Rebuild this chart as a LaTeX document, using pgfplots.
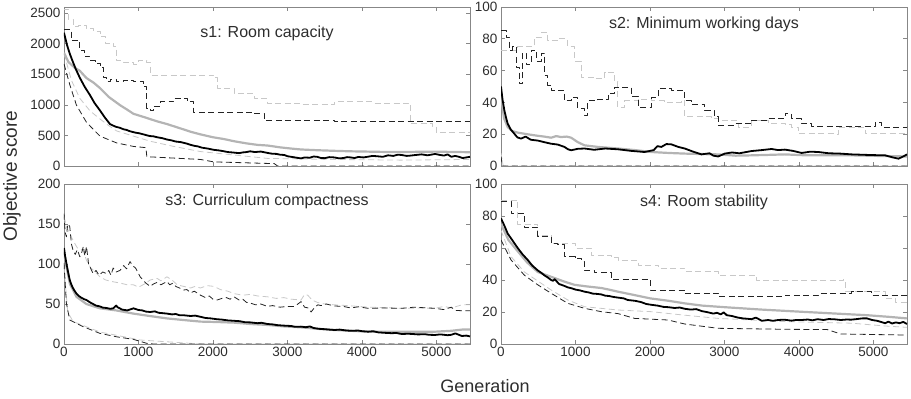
\documentclass[border=0pt]{standalone}
\usepackage{pgfplots}
\pgfplotsset{compat=1.18}
\usepackage{fontspec}
\setmainfont{Liberation Sans}
\definecolor{axgray}{RGB}{135,135,135}
\definecolor{txt}{RGB}{45,45,45}
\definecolor{medBc}{RGB}{180,180,180}
\definecolor{dashA}{RGB}{35,35,35}
\definecolor{dashB}{RGB}{200,200,200}
\tikzset{ttl/.style={font=\fontsize{16}{18}\selectfont, text=txt}}
\pgfplotsset{
  panel/.style={
    scale only axis, width=406pt, height=159pt,
    xmin=0, xmax=5450,
    xtick={0,1000,...,5000},
    tick align=inside, major tick length=4pt,
    axis line style={axgray, line width=0.6pt},
    tick style={axgray, line width=0.6pt},
    ticklabel style={font=\fontsize{13.5}{15}\selectfont, text=txt},
    /pgf/number format/assume math mode=true,
    /pgf/number format/1000 sep={},
    scaled y ticks=false, scaled x ticks=false,
    every axis plot/.append style={line join=round},
  },
  medA/.style={black, line width=1.8pt},
  medB/.style={medBc, line width=2.2pt},
  dA/.style={dashA, line width=0.8pt, dash pattern=on 6pt off 3.5pt},
  dB/.style={dashB, line width=0.8pt, dash pattern=on 6pt off 3.5pt},
}
\begin{document}
\begin{tikzpicture}
\useasboundingbox (0,0) rectangle (911pt,399pt);
% ---------------- s1 ----------------
\begin{axis}[panel, at={(64pt,233pt)}, anchor=south west, ymin=0, ymax=2600, ytick={0,500,...,2500}, xticklabel=\empty]
\addplot[dB, const plot] coordinates {(0,2568)(60,2400)(122,2287)(200,2300)(300,2250)(400,2200)(482,2119)(560,2000)(662,1950)(707,1725)(800,1690)(932,1669)(1000,1720)(1112,1697)(1157,1489)(2012,1444)(2057,1276)(2282,1191)(2552,1107)(2732,1023)(3182,1006)(3632,1051)(4150,1030)(4622,1000)(4650,700)(4940,650)(5000,545)(5450,540)};
\addplot[dB] coordinates {(0,1838)(100,1400)(212,1107)(350,900)(482,770)(600,660)(707,573)(932,489)(1157,405)(1472,320)(1832,236)(2282,180)(2732,124)(3632,107)(4532,96)(5450,107)};
\addplot[dA, const plot] coordinates {(0,2230)(100,2050)(212,1894)(280,1800)(347,1725)(420,1680)(482,1613)(527,1444)(570,1390)(617,1416)(700,1380)(800,1400)(932,1388)(1067,1304)(1112,939)(1157,910)(1200,980)(1292,1051)(1472,1107)(1652,1051)(1742,882)(2552,854)(2687,742)(3632,725)(4600,725)(5450,725)};
\addplot[dA] coordinates {(0,1669)(77,1332)(167,995)(302,714)(482,489)(707,377)(932,320)(1100,300)(1112,152)(1832,107)(2012,67)(2822,39)(2867,0)(5450,0)};
\addplot[medB] coordinates {(0,1850)(60,1700)(150,1600)(212,1557)(300,1440)(400,1360)(482,1275)(600,1130)(752,995)(850,920)(932,854)(1100,790)(1250,730)(1382,686)(1550,620)(1700,560)(1832,517)(2000,470)(2150,440)(2282,405)(2450,370)(2600,345)(2732,335)(2900,305)(3050,285)(3182,270)(3400,258)(3632,248)(3850,240)(4082,235)(4300,230)(4532,228)(4750,232)(4982,235)(5200,230)(5450,225)};
\addplot[medA] coordinates {(0,2180)(40,1980)(77,1838)(120,1700)(160,1580)(212,1444)(280,1290)(347,1163)(410,1030)(482,910)(550,790)(617,686)(660,660)(700,640)(750,625)(797,601)(840,590)(880,570)(960,545)(1010,535)(1067,517)(1150,490)(1200,485)(1250,470)(1320,455)(1382,433)(1440,420)(1500,400)(1570,390)(1652,365)(1700,345)(1750,330)(1800,320)(1850,300)(1930,285)(2012,264)(2080,255)(2150,240)(2200,228)(2282,219)(2350,210)(2400,222)(2450,228)(2500,240)(2560,228)(2642,236)(2700,222)(2750,210)(2800,200)(2850,198)(2900,185)(2957,180)(3000,160)(3050,150)(3100,140)(3182,124)(3230,140)(3300,135)(3350,155)(3400,150)(3450,130)(3500,128)(3560,145)(3632,140)(3690,125)(3750,130)(3800,145)(3850,140)(3900,130)(3950,148)(4020,140)(4082,152)(4140,165)(4200,160)(4280,150)(4350,175)(4420,165)(4480,185)(4532,180)(4600,165)(4650,170)(4720,180)(4800,190)(4880,175)(4982,197)(5050,180)(5100,170)(5150,190)(5200,150)(5250,165)(5297,152)(5350,130)(5400,140)(5450,150)};
\node[ttl] at (axis description cs:0.5,0.836) {s1: Room capacity};
\end{axis}
% ---------------- s2 ----------------
\begin{axis}[panel, at={(501pt,233pt)}, anchor=south west, ymin=0, ymax=100, ytick={0,20,...,100}, xticklabel=\empty]
\addplot[dB, const plot] coordinates {(0,73)(224,75)(448,81)(538,84)(628,79)(762,80)(897,75)(986,66)(1076,56)(1256,55)(1390,59)(1525,53)(1569,37)(1659,41)(1838,42)(2018,41)(2197,40)(2421,41)(2466,31)(2825,30)(2915,28.7)(3184,24.5)(3363,28.7)(3587,26.6)(3811,26)(3901,24.5)(3991,20.3)(4484,20)(4529,24.5)(4843,24.5)(4888,20.3)(5450,20.3)};
\addplot[dB] coordinates {(0,8)(30,0)(5450,0)};
\addplot[dA, const plot] coordinates {(0,85)(67,81)(112,73)(157,75)(202,62)(247,52)(291,71)(336,64)(404,73)(471,66)(538,71)(583,57)(628,51)(673,47.6)(852,41)(942,43)(1031,36)(1121,32)(1166,41)(1300,42)(1435,45.5)(1525,49.7)(1749,44)(1838,37)(2018,43)(2108,48.6)(2287,47.6)(2466,41)(2556,39)(2735,35)(2870,31)(2915,25.6)(3139,26.6)(3363,28.7)(3587,29.8)(3811,33)(3901,29.8)(4036,26.6)(4170,25)(4977,25)(5022,27.7)(5112,24.5)(5450,25)};
\addplot[dA] coordinates {(0,6)(20,0)(5450,0)};
\addplot[medB] coordinates {(0,45)(40,30)(90,24.5)(150,22)(224,21)(350,20)(493,19)(580,18.5)(673,17.8)(740,18.8)(807,18.2)(880,18.5)(942,17.8)(1031,15)(1121,13)(1300,12)(1570,11)(1800,10)(2018,8.8)(2250,8.2)(2466,7.8)(2700,7.5)(2915,7.3)(3150,6.5)(3363,6.7)(3600,7)(3811,7.3)(4050,6.8)(4260,6.7)(4500,6.8)(4709,6.7)(5100,6.3)(5450,6)};
\addplot[medA] coordinates {(0,50)(20,42)(45,35)(70,30)(90,26.6)(130,23)(179,20.3)(220,18)(269,17.2)(330,18.5)(400,16.5)(493,16)(580,15)(673,14)(760,13.5)(852,12)(900,10.5)(942,9.9)(1030,10.8)(1121,11)(1250,10.2)(1400,11)(1570,10.5)(1750,9.5)(1928,8.8)(2050,10)(2100,12.5)(2153,12)(2220,13.8)(2287,13.6)(2380,12)(2466,11)(2580,9)(2690,7.3)(2800,8)(2850,6.5)(2915,6)(3004,7.8)(3100,8.5)(3200,8)(3363,9.4)(3500,10)(3632,10.7)(3720,10)(3811,10.3)(3920,9.5)(4036,8.2)(4150,9)(4260,8.8)(4400,8)(4550,7.8)(4709,7.3)(4900,7)(5050,6.8)(5157,6.7)(5250,5.5)(5336,4.6)(5400,6)(5450,7.3)};
\node[ttl] at (axis description cs:0.5,0.893) {s2: Minimum working days};
\end{axis}
% ---------------- s3 ----------------
\begin{axis}[panel, at={(64pt,55pt)}, anchor=south west, height=160pt, ymin=0, ymax=200, ytick={0,50,...,200}]
\addplot[dB] coordinates {(0,159)(40,145)(77,138)(130,128)(180,120)(257,117)(300,105)(360,95)(420,90)(482,84)(560,80)(650,78)(760,76)(850,74)(932,74)(1000,71)(1080,75)(1157,80)(1250,82)(1300,79)(1382,84)(1450,80)(1520,74)(1607,72)(1700,70)(1760,72)(1832,70)(1920,73)(2012,72)(2100,68)(2200,66)(2282,63)(2400,61)(2500,62)(2600,60)(2732,59)(2850,57)(2950,58)(3050,56)(3182,55)(3230,62)(3272,61)(3330,55)(3400,52)(3500,50)(3632,49)(3800,48)(3950,47)(4100,46)(4300,45.5)(4532,44.6)(4800,45)(4982,44.6)(5100,47)(5200,45)(5342,49)(5450,49)};
\addplot[dB] coordinates {(0,95)(50,40)(122,28)(482,15)(1022,5)(1832,0)(5450,0)};
\addplot[dA] coordinates {(0,163)(15,140)(32,134)(50,150)(77,147)(100,125)(122,117)(150,112)(180,118)(212,109)(240,115)(260,122)(280,110)(302,122)(330,100)(347,97)(370,92)(392,88)(430,92)(470,86)(520,90)(572,88)(600,92)(630,86)(660,95)(700,90)(752,92)(800,98)(840,94)(887,103)(920,98)(960,95)(990,90)(1022,84)(1060,80)(1100,76)(1157,72)(1200,75)(1250,77)(1300,74)(1382,78)(1420,74)(1460,76)(1500,72)(1550,70)(1607,67.5)(1650,68)(1700,64)(1750,66)(1832,61)(1900,58)(1950,60)(2000,56)(2057,55)(2120,57)(2180,58)(2230,56)(2282,59)(2350,55)(2400,56)(2450,52)(2507,51)(2570,49)(2640,50)(2732,47)(2800,48)(2900,46)(3000,47)(3092,47)(3140,50)(3182,53)(3230,46)(3280,45)(3317,40)(3350,44)(3407,49)(3450,48)(3520,50)(3632,47.5)(3750,47)(3850,45)(3950,46.5)(4082,44.6)(4300,45)(4532,44.6)(4700,46)(4982,44.6)(5100,43)(5200,46)(5250,42)(5342,41.6)(5450,41.6)};
\addplot[dA] coordinates {(0,101)(32,51)(77,30)(257,21.7)(482,13.3)(707,9)(932,5.8)(1112,0.8)(1200,0)(5450,0)};
\addplot[medB] coordinates {(0,115)(32,97)(80,75)(167,59)(300,50)(482,44.6)(700,42)(932,38)(1150,35)(1382,32)(1600,30)(1832,28)(2050,27.5)(2282,26.7)(2500,25)(2732,23.8)(2950,22)(3182,20.8)(3400,19)(3632,17.5)(3850,16.5)(4082,15.4)(4532,15.4)(4982,15.4)(5200,16.5)(5342,18)(5450,18)};
\addplot[medA] coordinates {(0,120)(15,110)(32,101)(55,90)(77,80)(100,74)(120,70)(145,66)(167,63)(200,60)(230,58)(270,56)(302,55)(350,52)(390,50)(430,48)(482,47)(520,45.5)(570,45)(620,44)(662,44.6)(700,48)(720,46)(760,44)(780,43)(850,42)(932,44.6)(1000,42.5)(1050,42)(1100,40.5)(1157,40)(1220,40.8)(1270,39)(1330,38.5)(1382,38)(1450,37)(1500,37.5)(1550,36)(1600,36)(1700,35)(1760,35.5)(1832,34)(1900,32.5)(1970,32)(2050,31)(2120,30.5)(2200,29.5)(2282,29)(2360,28.5)(2430,27.2)(2500,27)(2600,26)(2650,26.5)(2732,25)(2800,24.5)(2870,23.5)(2950,23)(3050,22.5)(3100,21.5)(3182,21.7)(3250,21)(3300,22)(3350,20)(3420,19)(3500,18.5)(3560,18)(3632,17.5)(3700,18)(3780,17)(3850,16.5)(3950,16.8)(4000,16)(4082,15.4)(4150,16)(4220,14.5)(4300,14)(4400,13.5)(4460,13.8)(4532,12.5)(4620,12.8)(4680,12.5)(4750,12)(4850,12.2)(4900,11.5)(4982,11.3)(5050,12)(5100,11.5)(5150,11)(5200,11.5)(5252,13.3)(5300,11.5)(5342,10)(5400,10.5)(5450,9.5)};
\node[ttl] at (axis description cs:0.5,0.894) {s3: Curriculum compactness};
\end{axis}
% ---------------- s4 ----------------
\begin{axis}[panel, at={(501pt,55pt)}, anchor=south west, height=160pt, ymin=0, ymax=100, ytick={0,20,...,100}]
\addplot[dB, const plot] coordinates {(0,90)(224,75)(493,68)(673,63)(997,60)(1211,55.6)(1480,54)(1570,52.5)(1838,49.4)(2108,47.3)(2466,45.2)(2915,43)(3430,40)(4590,40.4)(4620,32.7)(5157,28.5)(5300,25.8)(5450,25.8)};
\addplot[dB] coordinates {(0,71)(135,54.6)(314,45)(673,33.75)(897,27.5)(1121,23.3)(1570,21.25)(2018,20.2)(2466,18)(2915,16)(3811,14)(4709,13)(5157,11.25)(5450,10.4)};
\addplot[dA, const plot] coordinates {(0,89)(135,81.7)(314,73)(493,67)(673,63)(762,62)(852,54.6)(997,53.5)(1076,51.5)(1121,46)(1256,44.6)(1480,40.4)(2005,33.75)(2466,31.7)(2915,29.6)(3811,30.6)(4260,31.7)(4709,32.7)(4977,30.6)(5450,30)};
\addplot[dA] coordinates {(0,65)(135,52.5)(314,43)(493,37)(673,31.7)(897,25.4)(1121,22.3)(1345,20.2)(1570,19)(1794,16)(2242,15)(2466,12.5)(2915,9.8)(3811,9.2)(4380,9)(4560,6.25)(5450,5.6)};
\addplot[medB] coordinates {(0,75)(100,65)(224,58)(350,51)(493,45)(673,42)(850,39)(986,37)(1150,36)(1345,35)(1450,34)(1570,32.7)(1800,30.5)(2005,28.5)(2250,27)(2466,25.4)(2700,24)(3004,23)(3500,21.5)(4013,20.2)(4500,19)(4913,18)(5200,17)(5450,16)};
\addplot[medA] coordinates {(0,78.5)(45,74)(90,69)(150,65)(224,60)(290,56)(359,52.5)(420,49)(493,46)(540,44.5)(580,43)(630,41.5)(673,40)(700,39.5)(720,40.5)(780,37.5)(840,36.5)(897,35.4)(950,34.8)(1000,34)(1060,33.5)(1121,32.7)(1180,32.2)(1230,31.5)(1290,31.3)(1345,31)(1400,30.2)(1450,30)(1510,29.4)(1570,29)(1650,28.5)(1700,27.5)(1800,27)(1880,26.2)(1950,25)(2018,24.5)(2100,24)(2180,23.2)(2250,23)(2330,22.5)(2400,22.8)(2466,22)(2550,21.5)(2620,21.8)(2700,20.5)(2760,20)(2850,19)(2900,19.5)(2950,18.5)(2990,19.8)(3030,18)(3100,17.5)(3180,16.5)(3250,16)(3300,15.8)(3363,15.5)(3420,16.5)(3450,15.8)(3500,14.5)(3587,15)(3650,14.5)(3720,15)(3800,15.2)(3900,14.6)(3960,15)(4036,15)(4120,15.3)(4180,14.8)(4250,15.5)(4330,15)(4400,15.6)(4484,15.4)(4560,15)(4640,15.3)(4700,15.2)(4780,15.6)(4850,16)(4913,16)(4980,15)(5050,14.5)(5100,13.8)(5157,13)(5200,14)(5250,12.8)(5300,13.5)(5350,13)(5400,13.8)(5450,12.5)};
\node[ttl] at (axis description cs:0.5,0.8875) {s4: Room stability};
\end{axis}
\node[rotate=90, font=\fontsize{19}{21}\selectfont, text=txt] at (12pt,223pt) {Objective score};
\node[font=\fontsize{18}{20}\selectfont, text=txt] at (485pt,13pt) {Generation};
\end{tikzpicture}
\end{document}
